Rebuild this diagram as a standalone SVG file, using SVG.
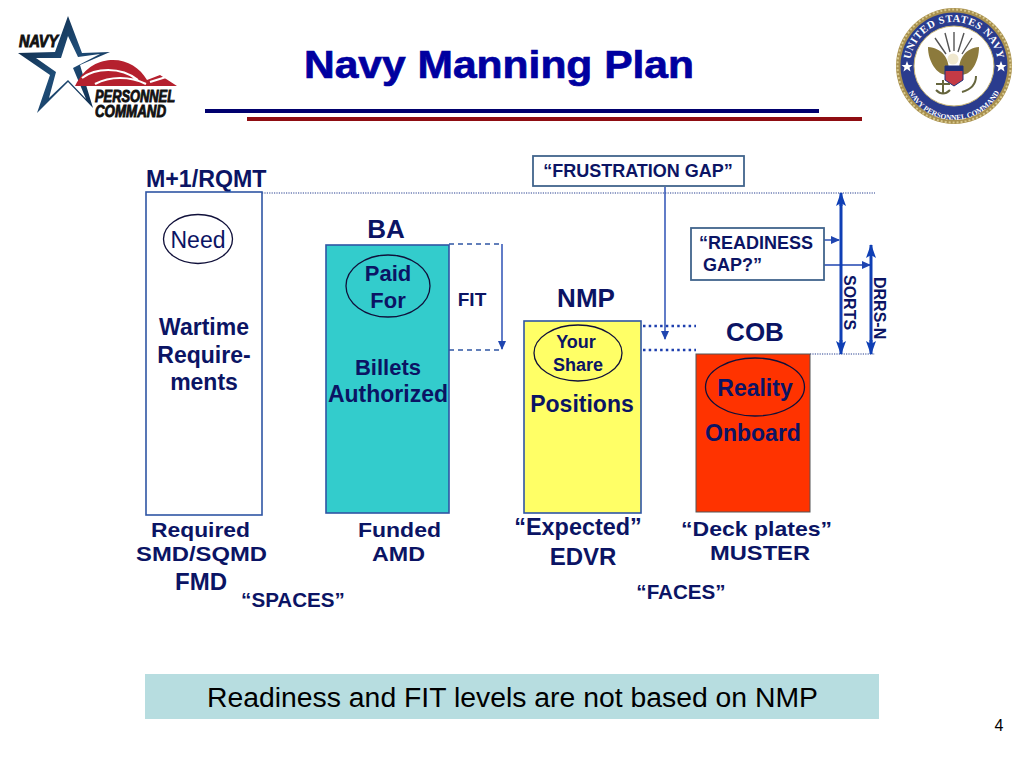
<svg xmlns="http://www.w3.org/2000/svg" xmlns:xlink="http://www.w3.org/1999/xlink" width="1024" height="768" viewBox="0 0 1024 768">
<style>
text{font-family:"Liberation Sans",Arial,sans-serif;fill:#0b1464}
.b{font-weight:bold}
.m{text-anchor:middle}
.s21{font-size:21px}.s24{font-size:24px}.s23{font-size:23px}.s18{font-size:18px}.s20{font-size:20.600px}
.logo{font-size:16px;font-style:italic;font-weight:bold;fill:#111;stroke:#111;stroke-width:.9}
.col{stroke:#2f55a4;stroke-width:1.6}
.ell{fill:none;stroke:#10103a;stroke-width:1.3}
.dot{fill:none;stroke:#6f7fb5;stroke-width:1.4;stroke-dasharray:1.2 1.2}
.bd{fill:none;stroke:#1d3fae;stroke-width:2.6;stroke-dasharray:2.5 3.2}
.thin{fill:none;stroke:#1f45b0;stroke-width:1.4}
.dash{fill:none;stroke:#2f55a4;stroke-width:1.3;stroke-dasharray:5 4}
.thick{fill:none;stroke:#0f3fb5;stroke-width:3}
.call{fill:#fff;stroke:#41648c;stroke-width:1.8}
</style>
<defs>
<marker id="a" markerUnits="userSpaceOnUse" markerWidth="9" markerHeight="8" refX="8" refY="4" orient="auto"><path d="M0 0L9 4L0 8Z" fill="#1f45b0"/></marker>
<marker id="t" markerUnits="userSpaceOnUse" markerWidth="14" markerHeight="10" refX="13" refY="5" orient="auto"><path d="M0 0L14 5L0 10L3 5Z" fill="#0f3fb5"/></marker>
<linearGradient id="star" x1="0" y1="0" x2="1" y2="1"><stop offset="0" stop-color="#0a1e38"/><stop offset=".5" stop-color="#1f4d78"/><stop offset="1" stop-color="#0c2644"/></linearGradient>
<path id="arcTop" d="M954 66m-44 0a44 44 0 0 1 88 0"/>
<path id="arcBot" d="M954 66m-51 3a51 51 0 0 0 102 0"/>
</defs>
<rect width="1024" height="768" fill="#fff"/>

<g id="logo-left">
<path d="M68 16L82 53L110 52L80 65L93 108L68 82L37 113L50 75L18 53L55 52Z" fill="url(#star)"/>
<path d="M68 36L61 58L36 58L56 72L49 98L68 80L86 99L73 68L100 54L78 57Z" fill="#fff"/>
<path d="M75 86C85 66 100 60 113 60C128 60 140 68 147 80L160 75L177 86Z" fill="#b5202e"/>
<path d="M82 78C95 68 120 66 138 80M95 84C110 76 130 76 146 84M150 82L166 77" fill="none" stroke="#fff" stroke-width="2.200"/>
<text x="19" y="47" class="logo" textLength="39" lengthAdjust="spacingAndGlyphs">NAVY</text>
<text x="95" y="102" class="logo" textLength="80" lengthAdjust="spacingAndGlyphs">PERSONNEL</text>
<text x="95" y="117" class="logo" textLength="71" lengthAdjust="spacingAndGlyphs">COMMAND</text>
</g>

<g id="title">
<text x="499" y="78" class="b m" style="font-size:39px;fill:#0000a0;stroke:#0000a0;stroke-width:.7" textLength="390" lengthAdjust="spacingAndGlyphs">Navy Manning Plan</text>
<rect x="205" y="109" width="614" height="4" fill="#00006e"/>
<rect x="247" y="117" width="615" height="4" fill="#8f0d12"/>
</g>

<g id="seal">
<circle cx="954" cy="66" r="58" fill="#a8904e"/>
<circle cx="954" cy="66" r="56.500" fill="none" stroke="#d8c88c" stroke-width="2" stroke-dasharray="2 2"/>
<circle cx="954" cy="66" r="53.500" fill="#2a3c8e"/>
<circle cx="954" cy="66" r="40" fill="#fff" stroke="#c9b676" stroke-width="1"/>
<text style="font-family:'Liberation Serif',serif;font-size:10.500px;font-weight:bold;fill:#fff;letter-spacing:.6px" text-anchor="middle"><textPath xlink:href="#arcTop" startOffset="50%">UNITED STATES NAVY</textPath></text>
<text style="font-family:'Liberation Serif',serif;font-size:7.500px;font-weight:bold;fill:#fff" text-anchor="middle"><textPath xlink:href="#arcBot" startOffset="50%">NAVY PERSONNEL COMMAND</textPath></text>
<path d="M907 61l1.500 4h4l-3 2.500 1 4-3.500-2.500-3.500 2.500 1-4-3-2.500h4ZM1001 61l1.500 4h4l-3 2.500 1 4-3.500-2.500-3.500 2.500 1-4-3-2.500h4Z" fill="#fff"/>
<path d="M935 38L946 54M945 33L950 52M954 32L954 51M964 33L958 52M972 38L962 54" stroke="#555" stroke-width="1.400" fill="none"/>
<path d="M928 47C942 48 950 58 949 74C940 78 928 64 928 47ZM979 47C966 48 958 58 959 74C969 78 979 64 979 47Z" fill="#8c7a3c"/>
<circle cx="953" cy="59" r="5.500" fill="#efe8cf"/>
<path d="M945 66H963V80L954 86L945 80Z" fill="#c43a45" stroke="#1e2f78"/>
<rect x="945" y="66" width="18" height="5" fill="#1e2f78"/>
<path d="M936 84H950M943 80V94M936 90Q943 97 950 90M962 92Q976 88 976 76" fill="none" stroke="#66663e" stroke-width="2"/>
</g>

<g id="connectors">
<path class="dot" d="M262 193H875M810 354H875"/>
<path class="dash" d="M449 244H502M449 350H502"/>
<path class="thin" d="M502 244V349" marker-end="url(#a)"/>
<path class="bd" d="M643 326H696M643 350H696"/>
<path class="thin" d="M665 187V339" marker-end="url(#a)"/>
<path class="thin" d="M823 240H839" marker-end="url(#a)"/>
<path class="thin" d="M823 265H870" marker-end="url(#a)"/>
<path class="thick" d="M841 206V193" marker-end="url(#t)"/><path class="thick" d="M841 340V354" marker-end="url(#t)"/><path class="thick" d="M841 200V345"/>
<path class="thick" d="M871 256V245" marker-end="url(#t)"/><path class="thick" d="M871 340V354" marker-end="url(#t)"/><path class="thick" d="M871 250V345"/>
</g>

<g id="m1-rqmt">
<text x="146" y="187" class="b s23" style="font-size:23.200px">M+1/RQMT</text>
<rect x="146" y="192" width="116" height="323" fill="#fff" class="col"/>
<ellipse cx="198" cy="239" rx="34.500" ry="24.500" class="ell"/>
<text x="198" y="248" class="m s23">Need</text>
<text x="204" y="335" class="b m s23">Wartime</text>
<text x="204" y="363" class="b m s23">Require-</text>
<text x="204" y="390" class="b m s23">ments</text>
<text x="200.500" y="537" class="b m s21" textLength="99" lengthAdjust="spacingAndGlyphs">Required</text>
<text x="201.500" y="561" class="b m s21" textLength="131" lengthAdjust="spacingAndGlyphs">SMD/SQMD</text>
<text x="201" y="590" class="b m s24">FMD</text>
<text x="293" y="607" class="b m s20">“SPACES”</text>
</g>

<g id="ba">
<text x="386" y="238" class="b m" style="font-size:26px">BA</text>
<rect x="326" y="245" width="123" height="268" fill="#33cccc" class="col"/>
<ellipse cx="388" cy="286" rx="42" ry="31" class="ell"/>
<text x="388" y="281" class="b m" style="font-size:22px">Paid</text>
<text x="388" y="308" class="b m" style="font-size:22px">For</text>
<text x="388" y="375" class="b m" style="font-size:22px">Billets</text>
<text x="388" y="402" class="b m s23">Authorized</text>
<text x="472" y="306" class="b m" style="font-size:19px">FIT</text>
<text x="399.500" y="537" class="b m s21" textLength="83" lengthAdjust="spacingAndGlyphs">Funded</text>
<text x="398.500" y="561" class="b m s21" textLength="53" lengthAdjust="spacingAndGlyphs">AMD</text>
</g>

<g id="nmp">
<text x="586" y="307" class="b m" style="font-size:26px">NMP</text>
<rect x="524" y="321" width="117" height="192" fill="#ffff66" class="col"/>
<ellipse cx="578" cy="353" rx="44" ry="28" class="ell"/>
<text x="576" y="348" class="b m s18">Your</text>
<text x="578" y="371" class="b m s18">Share</text>
<text x="582" y="412" class="b m s23">Positions</text>
<text x="578" y="535" class="b m s23" style="font-size:23.400px">“Expected”</text>
<text x="583" y="565" class="b m s24">EDVR</text>
<text x="681" y="599" class="b m s20">“FACES”</text>
</g>

<g id="cob">
<text x="755" y="341" class="b m" style="font-size:26px">COB</text>
<rect x="696" y="354" width="114" height="158" fill="#ff3300" stroke="#555" stroke-width="1"/>
<ellipse cx="755" cy="387" rx="49.500" ry="29" class="ell"/>
<text x="755" y="396" class="b m s23">Reality</text>
<text x="753" y="441" class="b m s23">Onboard</text>
<text x="756.500" y="536" class="b m s21" textLength="151" lengthAdjust="spacingAndGlyphs">“Deck plates”</text>
<text x="760" y="560" class="b m s21" textLength="100" lengthAdjust="spacingAndGlyphs">MUSTER</text>
</g>

<g id="frustration-gap">
<rect x="533" y="156" width="211" height="30" class="call"/>
<text x="638" y="177" class="b m s18">“FRUSTRATION GAP”</text>
</g>
<g id="readiness-gap">
<rect x="691" y="228" width="133" height="52" class="call"/>
<text x="699" y="249" class="b s18">“READINESS</text>
<text x="703" y="271" class="b s18">GAP?”</text>
</g>
<g id="sorts"><text transform="translate(844 275) rotate(90)" class="b" style="font-size:16px">SORTS</text></g>
<g id="drrs"><text transform="translate(874 277) rotate(90)" class="b" style="font-size:16px">DRRS-N</text></g>

<g id="footer">
<rect x="145" y="674" width="734" height="45" fill="#b7dde0"/>
<text x="512.500" y="707" class="m" style="font-size:27px;fill:#000" textLength="611" lengthAdjust="spacingAndGlyphs">Readiness and FIT levels are not based on NMP</text>
<text x="999" y="731" class="m" style="font-size:16px;fill:#000">4</text>
</g>
</svg>
